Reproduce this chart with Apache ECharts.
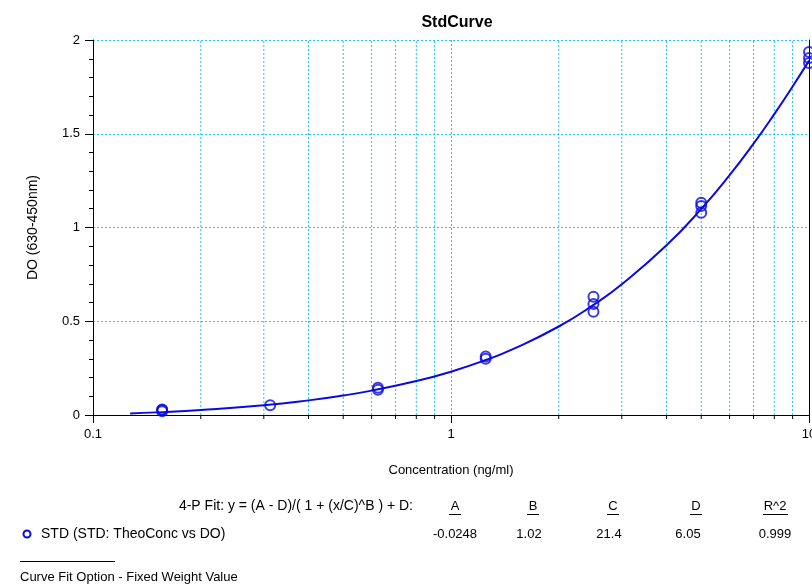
<!DOCTYPE html>
<html>
<head>
<meta charset="utf-8">
<script src="https://cdn.jsdelivr.net/npm/echarts@6/dist/echarts.min.js"></script>
<style>
html,body{margin:0;padding:0;background:#fff;}
#chart{width:812px;height:585px;}
</style>
</head>
<body>
<div id="chart"></div>
<script>
// ---- data ----
var stdConc = [0.156, 0.156, 0.156, 0.3125, 0.625, 0.625, 1.25, 1.25, 2.5, 2.5, 2.5, 5, 5, 5, 10, 10, 10];
var stdDO   = [0.020, 0.027, 0.030, 0.052, 0.135, 0.145, 0.300, 0.312, 0.551, 0.592, 0.631, 1.079, 1.115, 1.132, 1.877, 1.904, 1.936];

var curveX = [0.127, 0.15, 0.2, 0.3, 0.4, 0.5, 0.6, 0.8, 1, 1.25, 1.5, 2, 2.5, 3, 4, 5, 6, 7, 8, 9, 10];
var curveY = [0.008, 0.014, 0.027, 0.052, 0.078, 0.104, 0.130, 0.181, 0.231, 0.293, 0.354, 0.472, 0.587, 0.697, 0.905, 1.099, 1.279, 1.447, 1.605, 1.752, 1.890];

var xMinorGrid = [0.2, 0.3, 0.4, 0.5, 0.6, 0.7, 0.8, 0.9, 2, 3, 4, 5, 6, 7, 8, 9];

var fitLabel = '4-P Fit: y = (A - D)/( 1 + (x/C)^B ) + D:';
var paramNames = ['A', 'B', 'C', 'D', 'R^2'];
var paramValues = ['-0.0248', '1.02', '21.4', '6.05', '0.999'];
var seriesLabel = 'STD (STD: TheoConc vs DO)';
var footLabel = 'Curve Fit Option - Fixed Weight Value';

// ---- chart ----
var FONT = 'Liberation Sans, Arial, sans-serif';
var GRIDC = '#1ec8f0';
var BLUE = '#0a0ae0';
var TF = '13px ' + FONT;
var TF14 = '14px ' + FONT;

var chart = echarts.init(document.getElementById('chart'), null, {renderer: 'canvas'});

var scatterData = stdConc.map(function (c, i) { return [c, stdDO[i]]; });
var curveData = curveX.map(function (c, i) { return [c, curveY[i]]; });

var headerX = [455, 533, 613, 696, 775];
var valueX  = [455, 529, 609, 688, 775];

var graphics = [];
graphics.push({type: 'text', x: 413, y: 506, style: {text: fitLabel, font: TF14, fill: '#000', align: 'right', verticalAlign: 'middle'}});
paramNames.forEach(function (n, i) {
  graphics.push({type: 'text', x: headerX[i], y: 506, style: {text: n, font: TF, fill: '#000', align: 'center', verticalAlign: 'middle'}});
});
[[449, 461], [527, 539], [607, 619], [690, 702], [763, 788]].forEach(function (s) {
  graphics.push({type: 'line', shape: {x1: s[0], y1: 514.5, x2: s[1], y2: 514.5}, style: {stroke: '#000', lineWidth: 1}});
});
paramValues.forEach(function (v, i) {
  graphics.push({type: 'text', x: valueX[i], y: 534, style: {text: v, font: TF, fill: '#000', align: 'center', verticalAlign: 'middle'}});
});
graphics.push({type: 'circle', shape: {cx: 27, cy: 534, r: 3.5}, style: {stroke: BLUE, fill: 'none', lineWidth: 2}});
graphics.push({type: 'text', x: 41, y: 534, style: {text: seriesLabel, font: TF14, fill: '#000', verticalAlign: 'middle'}});
graphics.push({type: 'line', shape: {x1: 20, y1: 561.5, x2: 115, y2: 561.5}, style: {stroke: '#000', lineWidth: 1}});
graphics.push({type: 'text', x: 20, y: 577, style: {text: footLabel, font: TF, fill: '#000', verticalAlign: 'middle'}});

var option = {
  animation: false,
  backgroundColor: '#fff',
  title: {
    text: 'StdCurve', left: 452, top: 10, textAlign: 'center',
    textStyle: {fontFamily: FONT, fontSize: 16, fontWeight: 'bold', color: '#000'}
  },
  grid: {left: 93, top: 40, right: 3, bottom: 170, outerBoundsMode: 'none', containLabel: false, show: false},
  xAxis: [{
    type: 'log', logBase: 10, min: 0.1, max: 10,
    name: 'Concentration (ng/ml)', nameLocation: 'middle', nameGap: 49,
    nameTextStyle: {fontFamily: FONT, fontSize: 13, color: '#000'},
    axisLine: {lineStyle: {color: '#000', width: 1}},
    axisTick: {show: true, length: 8, lineStyle: {color: '#000'}},
    axisLabel: {fontFamily: FONT, fontSize: 13, color: '#000', margin: 13},
    splitLine: {show: true, lineStyle: {color: GRIDC, type: [2, 2], width: 1}},
    minorTick: {show: false},
    minorSplitLine: {show: false}
  }, {
    type: 'log', logBase: 10, min: 0.1, max: 10, position: 'top', z: 4,
    axisLine: {show: true, lineStyle: {color: '#000', width: 1}},
    axisTick: {show: false}, axisLabel: {show: false}, splitLine: {show: false}
  }],
  yAxis: [{
    type: 'value', min: 0, max: 2, interval: 0.5,
    name: 'DO (630-450nm)', nameLocation: 'middle', nameGap: 53,
    nameTextStyle: {fontFamily: FONT, fontSize: 14, color: '#000'},
    axisLine: {show: true, lineStyle: {color: '#000', width: 1}},
    axisTick: {show: true, length: 8, lineStyle: {color: '#000'}},
    minorTick: {show: true, splitNumber: 5, length: 4, lineStyle: {color: '#000'}},
    axisLabel: {fontFamily: FONT, fontSize: 13, color: '#000', margin: 13},
    splitLine: {show: true, lineStyle: {color: GRIDC, type: [2, 2], width: 1}}
  }, {
    type: 'value', min: 0, max: 2, interval: 0.5, position: 'right', z: 4,
    axisLine: {show: true, lineStyle: {color: '#000', width: 1}},
    axisTick: {show: false}, axisLabel: {show: false}, splitLine: {show: false}
  }],
  graphic: graphics,
  series: [
    {
      type: 'custom', name: 'minorGrid', silent: true, z: 1,
      data: xMinorGrid.map(function (v) { return [v]; }),
      renderItem: function (params, api) {
        var v = api.value(0);
        var top = api.coord([v, 2]);
        var bot = api.coord([v, 0]);
        return {
          type: 'group',
          children: [
            {type: 'line', shape: {x1: top[0], y1: top[1] + 1, x2: bot[0], y2: bot[1]}, style: {stroke: GRIDC, lineWidth: 1, lineDash: [2, 2]}},
            {type: 'line', shape: {x1: bot[0], y1: bot[1], x2: bot[0], y2: bot[1] + 4}, style: {stroke: '#000', lineWidth: 1}}
          ]
        };
      },
      clip: false
    },
    {
      type: 'line', name: 'fit', data: curveData, smooth: true, showSymbol: false, z: 3,
      lineStyle: {color: BLUE, width: 2}
    },
    {
      type: 'scatter', name: 'STD', data: scatterData, symbol: 'circle', symbolSize: 10, z: 4,
      itemStyle: {color: 'rgba(0,0,0,0)', borderColor: BLUE, borderWidth: 2}
    }
  ]
};
chart.setOption(option);
</script>
</body>
</html>
